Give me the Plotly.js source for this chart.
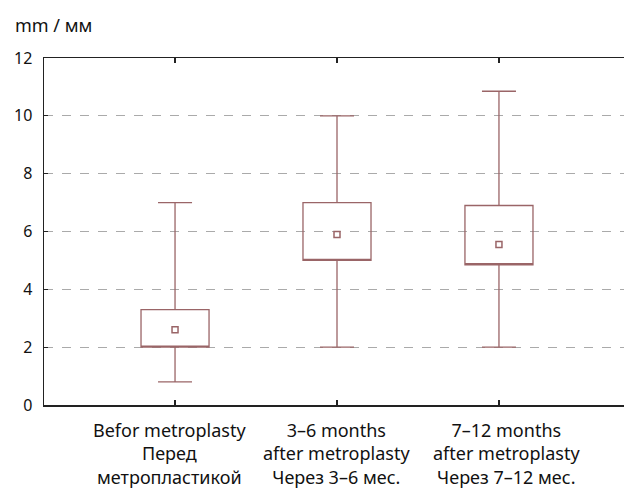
<!DOCTYPE html>
<html>
<head>
<meta charset="utf-8">
<script src="https://cdn.plot.ly/plotly-3.0.1.min.js"></script>
<style>html,body{margin:0;padding:0;background:#fff;}#chart{width:624px;height:490px;}</style>
</head>
<body>
<div id="chart"></div>
<script>
var categories = [
  'Befor metroplasty<br>Перед<br>метропластикой',
  '3–6 months<br>after metroplasty<br>Через 3–6 мес.',
  '7–12 months<br>after metroplasty<br>Через 7–12 мес.'
];
var q1Values = [2.0, 5.0, 4.85];
var q3Values = [3.3, 7.0, 6.9];
var lowerValues = [0.8, 2.0, 2.0];
var upperValues = [7.0, 10.0, 10.85];
var centerValues = [2.6, 5.9, 5.55];
var yTicks = [0, 2, 4, 6, 8, 10, 12];

var boxColor = '#9a6567';
var fontFamily = 'Noto Sans, DejaVu Sans, sans-serif';
var labelShifts = [-6, -1, 8];

var traces = [
  {
    type: 'box',
    x: categories,
    q1: q1Values,
    median: q1Values,
    q3: q3Values,
    lowerfence: lowerValues,
    upperfence: upperValues,
    width: 0.42,
    whiskerwidth: 0.5,
    line: {color: boxColor, width: 1.3},
    fillcolor: 'rgba(255,255,255,0)',
    boxpoints: false,
    hoverinfo: 'skip',
    showlegend: false
  },
  {
    type: 'scatter',
    mode: 'markers',
    x: categories,
    y: centerValues,
    marker: {symbol: 'square-open', size: 6, color: boxColor, line: {width: 1.5, color: boxColor}},
    showlegend: false,
    hoverinfo: 'skip'
  }
];

var annotations = [{
  text: 'mm / мм',
  xref: 'paper', yref: 'paper',
  x: -44/580, y: 1 + 33/347,
  xanchor: 'left', yanchor: 'middle',
  xshift: 13,
  showarrow: false,
  font: {family: fontFamily, size: 18, color: '#111'}
}];
categories.forEach(function (c, i) {
  annotations.push({
    text: c,
    xref: 'x', yref: 'paper',
    x: c, y: 0,
    xanchor: 'center', yanchor: 'top',
    xshift: labelShifts[i],
    yshift: -11,
    align: 'center',
    showarrow: false,
    font: {family: fontFamily, size: 18, color: '#111'}
  });
});

var layout = {
  width: 624,
  height: 490,
  margin: {l: 44, r: 0, t: 58, b: 85, pad: 0},
  paper_bgcolor: '#fff',
  plot_bgcolor: '#fff',
  font: {family: fontFamily, size: 17, color: '#111'},
  showlegend: false,
  xaxis: {
    type: 'category',
    range: [-0.809, 2.772],
    showline: true,
    linecolor: '#222',
    linewidth: 1.5,
    mirror: 'ticks',
    ticks: 'inside',
    ticklen: 5,
    tickcolor: '#222',
    tickwidth: 1.5,
    showgrid: false,
    zeroline: false,
    showticklabels: false
  },
  yaxis: {
    range: [0, 12],
    tickvals: yTicks,
    ticktext: yTicks.map(String),
    showline: true,
    linecolor: '#222',
    linewidth: 1.5,
    ticks: 'inside',
    ticklen: 4,
    tickcolor: '#222',
    showgrid: true,
    gridcolor: '#aaaaaa',
    griddash: 'dash',
    gridwidth: 1,
    zeroline: false,
    ticklabelstandoff: 7,
    tickfont: {family: fontFamily, size: 16, color: '#111'}
  },
  annotations: annotations
};

Plotly.newPlot('chart', traces, layout, {displayModeBar: false, staticPlot: true});
</script>
</body>
</html>
